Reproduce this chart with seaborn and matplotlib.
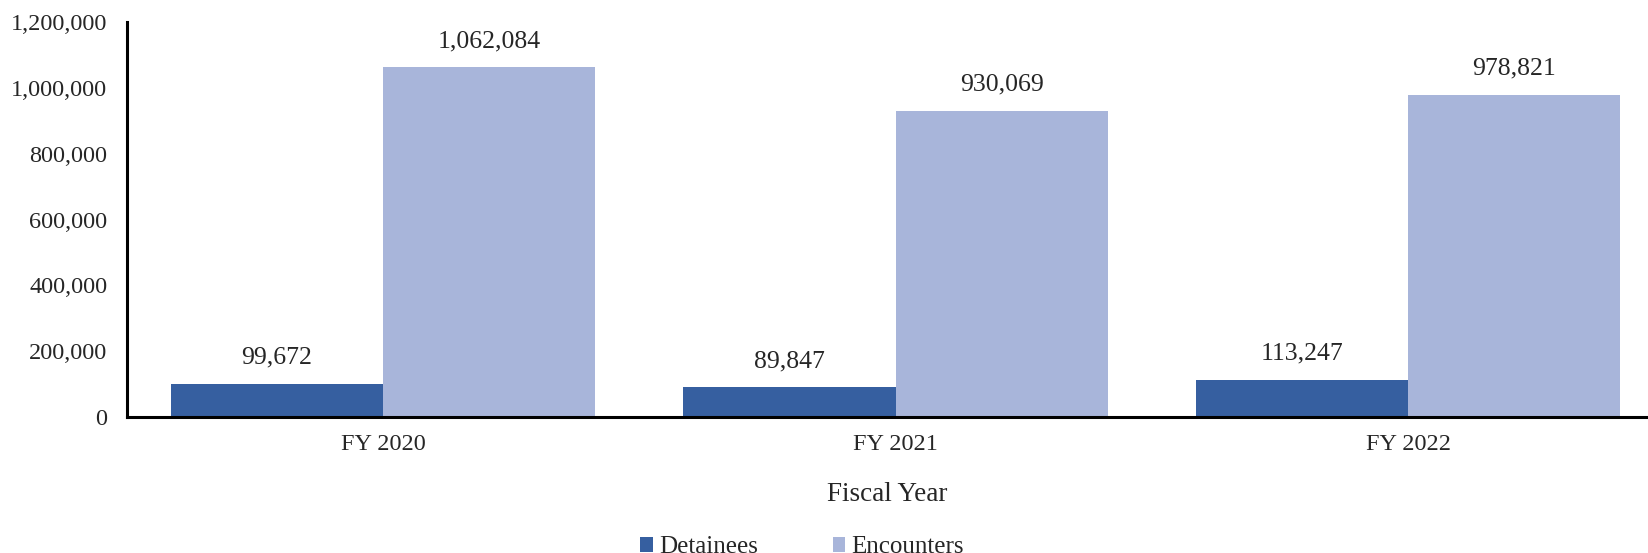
import matplotlib.pyplot as plt
import seaborn as sns
import pandas as pd
from matplotlib.ticker import FuncFormatter

# Data
years = ["FY 2020", "FY 2021", "FY 2022"]
detainees = [99672, 89847, 113247]
encounters = [1062084, 930069, 978821]
series = ["Detainees", "Encounters"]
colors = ["#365FA0", "#A8B5DA"]

df = pd.DataFrame({
    "year": years * 2,
    "value": detainees + encounters,
    "series": [series[0]] * 3 + [series[1]] * 3,
})

sns.set_style("white")
plt.rcParams["font.family"] = ["Liberation Serif", "DejaVu Serif"]

fig = plt.figure(figsize=(16.48, 5.53), dpi=100)
ax = fig.add_axes([0.077, 0.246, 0.923, 0.714])

sns.barplot(data=df, x="year", y="value", hue="series", palette=colors,
            width=0.828, saturation=1, linewidth=0, ax=ax, legend=True)

# value labels above bars
for cont in ax.containers:
    ax.bar_label(cont, labels=[f"{v:,.0f}" for v in cont.datavalues],
                 padding=11, fontsize=18.5)

ax.set_ylim(0, 1200000)
ax.set_xlim(-0.5, 2.468)
ax.set_yticks(range(0, 1200001, 200000))
ax.yaxis.set_major_formatter(FuncFormatter(lambda v, p: f"{v:,.0f}"))
ax.tick_params(axis="y", labelsize=17.5, length=0, pad=14)
ax.tick_params(axis="x", labelsize=17.5, length=0, pad=12)
ax.set_xlabel("Fiscal Year", fontsize=19.5, labelpad=20)
ax.set_ylabel("")

for s in ["top", "right"]:
    ax.spines[s].set_visible(False)
for s in ["left", "bottom"]:
    ax.spines[s].set_color("black")
    ax.spines[s].set_linewidth(2.2)

ax.legend(loc="center", bbox_to_anchor=(0.444, -0.33), ncol=2,
          frameon=False, fontsize=18, handlelength=0.5, handleheight=0.5,
          handletextpad=0.25, columnspacing=3.0)

fig.savefig("out.png", dpi=100)
